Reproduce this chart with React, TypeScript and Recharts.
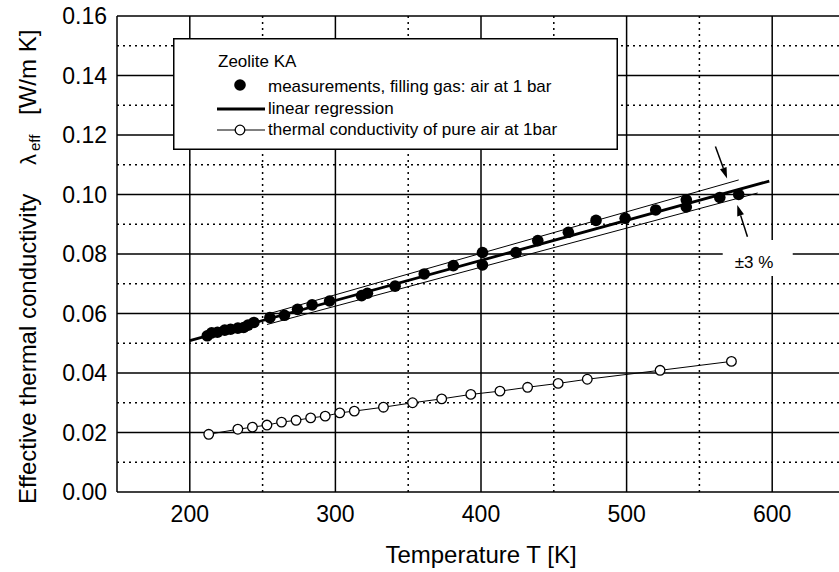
import React from "react";
import {
  ComposedChart,
  Scatter,
  XAxis,
  YAxis,
  ReferenceLine,
  ReferenceDot,
  Legend,
} from "recharts";

const FONT = "'Liberation Sans', Arial, Helvetica, sans-serif";

// measurements, filling gas: air at 1 bar
const measT = [
  212, 215, 219, 224, 228, 233, 237, 240, 244, 255, 265, 274, 284, 296, 318,
  322, 341, 361, 381, 401, 401, 424, 439, 460, 479, 499, 520, 541, 541, 564, 577,
];
const measK = [
  0.0525, 0.0535, 0.0537, 0.0544, 0.0547, 0.0551, 0.0553, 0.0561, 0.057,
  0.0586, 0.0594, 0.0614, 0.0629, 0.0642, 0.066, 0.0668, 0.0692, 0.0733,
  0.0761, 0.0805, 0.0763, 0.0805, 0.0845, 0.0873, 0.0913, 0.092, 0.0948,
  0.0958, 0.0982, 0.099, 0.1,
];

// thermal conductivity of pure air at 1 bar
const airT = [
  213, 233, 243, 253, 263, 273, 283, 293, 303, 313, 333, 353, 373, 393, 413,
  432, 453, 473, 523, 572,
];
const airK = [
  0.0194, 0.0211, 0.0218, 0.0225, 0.0235, 0.0241, 0.0249, 0.0255, 0.0266,
  0.0272, 0.0285, 0.03, 0.0313, 0.0328, 0.0339, 0.0352, 0.0365, 0.0379,
  0.0409, 0.0439,
];

// linear regression and the ±3 % band
const fitT = [200, 598];
const fitK = [0.0509, 0.1045];
const upperT = [252, 577];
const upperK = [0.0596, 0.1049];
const lowerT = [253, 590];
const lowerK = [0.0563, 0.1005];

const xTicks = [200, 300, 400, 500, 600];
const xMinor = [250, 350, 450, 550];
const yTicks = [0, 0.02, 0.04, 0.06, 0.08, 0.1, 0.12, 0.14, 0.16];
const yMinor = [0.01, 0.03, 0.05, 0.07, 0.09, 0.11, 0.13, 0.15];

// annotation arrows pointing at the band
const arrowTop = [
  { T: 561, v: 0.1161 },
  { T: 569, v: 0.1054 },
];
const arrowBottom = [
  { T: 583, v: 0.0858 },
  { T: 576, v: 0.0965 },
];

const pairs = (xs: number[], ys: number[]) => xs.map((T, i) => ({ T, v: ys[i] }));
const meas = pairs(measT, measK);
const air = pairs(airT, airK);
const fit = pairs(fitT, fitK);
const upper = pairs(upperT, upperK);
const lower = pairs(lowerT, lowerK);

function XTick({ x, y, payload }: any) {
  return (
    <text x={x} y={y + 30} textAnchor="middle" fontFamily={FONT} fontSize={23} fill="#000">
      {payload.value}
    </text>
  );
}

function YTick({ x, y, payload }: any) {
  return (
    <text x={x - 10} y={y + 8} textAnchor="end" fontFamily={FONT} fontSize={23} fill="#000">
      {Number(payload.value).toFixed(2)}
    </text>
  );
}

function YTitle() {
  return (
    <text transform="rotate(-90)" fontFamily={FONT} fontSize={24} fill="#000">
      <tspan x={-504} y={36}>Effective thermal conductivity</tspan>
      <tspan x={-165} y={36} fontSize={22}>λ</tspan>
      <tspan x={-151} y={40} fontSize={15}>eff</tspan>
      <tspan x={-115} y={36}>[W/m K]</tspan>
    </text>
  );
}

function XTitle({ viewBox }: any) {
  return (
    <text
      x={viewBox.x + viewBox.width / 2}
      y={563}
      textAnchor="middle"
      fontFamily={FONT}
      fontSize={24}
      fill="#000"
    >
      Temperature T [K]
    </text>
  );
}

function Arrow({ x1, y1, x2, y2 }: any) {
  const a = Math.atan2(y2 - y1, x2 - x1);
  const L = 11;
  const W = 3.5;
  const bx = x2 - L * Math.cos(a);
  const by = y2 - L * Math.sin(a);
  const px = -Math.sin(a) * W;
  const py = Math.cos(a) * W;
  return (
    <g>
      <line x1={x1} y1={y1} x2={bx} y2={by} stroke="#000" strokeWidth={1.5} />
      <polygon points={`${x2},${y2} ${bx + px},${by + py} ${bx - px},${by - py}`} fill="#000" />
    </g>
  );
}

function BandLabel({ cx, cy }: any) {
  return (
    <g>
      <rect x={cx - 32} y={cy - 14} width={70} height={36} fill="#fff" />
      <text x={cx - 20} y={cy + 14} fontFamily={FONT} fontSize={17} fill="#000">
        ±3 %
      </text>
    </g>
  );
}

function Dot({ cx, cy }: any) {
  return <circle cx={cx} cy={cy} r={5.8} fill="#000" />;
}

function OpenDot({ cx, cy }: any) {
  return <circle cx={cx} cy={cy} r={4.8} fill="#fff" stroke="#000" strokeWidth={1.3} />;
}

function NoDot() {
  return <g />;
}

function LegendBox() {
  return (
    <svg width={445} height={112} style={{ display: "block" }}>
      <rect x={0.75} y={0.75} width={443.5} height={110.5} fill="#fff" stroke="#000" strokeWidth={1.5} />
      <g fontFamily={FONT} fontSize={17} fill="#000">
        <text x={45} y={29}>Zeolite KA</text>
        <circle cx={67} cy={47} r={5.8} fill="#000" />
        <text x={95} y={54}>measurements, filling gas: air at 1 bar</text>
        <line x1={44} x2={92} y1={71} y2={71} stroke="#000" strokeWidth={2.8} />
        <text x={95} y={76}>linear regression</text>
        <line x1={44} x2={92} y1={92} y2={92} stroke="#000" strokeWidth={1} />
        <circle cx={67} cy={92} r={4.8} fill="#fff" stroke="#000" strokeWidth={1.3} />
        <text x={95} y={97}>thermal conductivity of pure air at 1bar</text>
      </g>
    </svg>
  );
}

export default function App() {
  return (
    <div
      style={{
        position: "fixed",
        left: 0,
        top: 0,
        width: 839,
        height: 572,
        overflow: "hidden",
        background: "#fff",
      }}
    >
      <ComposedChart width={850} height={572} margin={{ top: 16, right: 5, bottom: 0, left: 0 }}>
        <XAxis
          type="number"
          dataKey="T"
          domain={[150, 650]}
          ticks={xTicks}
          tick={<XTick />}
          tickLine={false}
          tickSize={0}
          tickMargin={0}
          height={80}
          axisLine={{ stroke: "#000", strokeWidth: 1.5 }}
          allowDataOverflow
          label={{ content: (p: any) => <XTitle {...p} /> }}
        />
        <YAxis
          type="number"
          dataKey="v"
          domain={[0, 0.16]}
          ticks={yTicks}
          tick={<YTick />}
          tickLine={false}
          tickSize={0}
          tickMargin={0}
          width={117}
          axisLine={{ stroke: "#000", strokeWidth: 1.5 }}
          allowDataOverflow
          label={{ content: () => <YTitle /> }}
        />

        {yMinor.map((v) => (
          <ReferenceLine key={`ym${v}`} y={v} stroke="#000" strokeWidth={1.3} strokeDasharray="2 4" />
        ))}
        {xMinor.map((t) => (
          <ReferenceLine key={`xm${t}`} x={t} stroke="#000" strokeWidth={1.5} strokeDasharray="2 4" />
        ))}
        {yTicks.slice(1).map((v) => (
          <ReferenceLine key={`y${v}`} y={v} stroke="#000" strokeWidth={1.5} />
        ))}
        {xTicks.map((t) => (
          <ReferenceLine key={`x${t}`} x={t} stroke="#000" strokeWidth={1.5} />
        ))}

        <ReferenceDot x={588} y={0.08} r={0} shape={<BandLabel />} />
        <ReferenceLine segment={arrowTop.map((p) => ({ x: p.T, y: p.v }))} shape={<Arrow />} />
        <ReferenceLine segment={arrowBottom.map((p) => ({ x: p.T, y: p.v }))} shape={<Arrow />} />

        <Scatter data={upper} line={{ stroke: "#000", strokeWidth: 1 }} shape={<NoDot />} isAnimationActive={false} />
        <Scatter data={lower} line={{ stroke: "#000", strokeWidth: 1 }} shape={<NoDot />} isAnimationActive={false} />
        <Scatter data={fit} line={{ stroke: "#000", strokeWidth: 2.8 }} shape={<NoDot />} isAnimationActive={false} />
        <Scatter data={meas} shape={<Dot />} isAnimationActive={false} />
        <Scatter data={air} line={{ stroke: "#000", strokeWidth: 1 }} shape={<OpenDot />} isAnimationActive={false} />

        <Legend
          layout="horizontal"
          verticalAlign="middle"
          align="center"
          content={() => <LegendBox />}
          wrapperStyle={{ position: "absolute", left: 173, top: 38, width: 445, height: 112 }}
        />
      </ComposedChart>
    </div>
  );
}
